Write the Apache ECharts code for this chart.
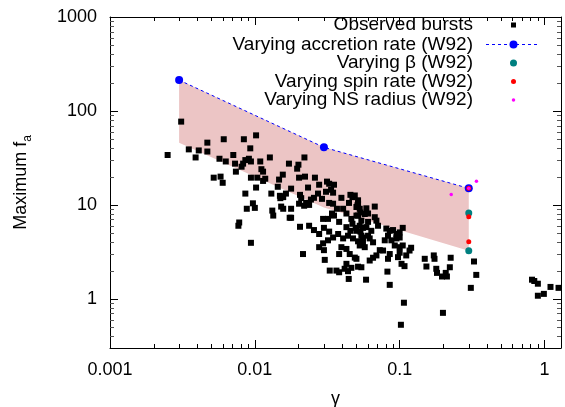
<!DOCTYPE html>
<html><head><meta charset="utf-8">
<script src="https://cdn.jsdelivr.net/npm/echarts@6/dist/echarts.min.js"></script>
<style>html,body{margin:0;padding:0;background:#fff}#c{width:565px;height:407px}</style>
</head><body><div id="c"></div>
<script>
// ---- axis ranges and tick labels ----
const xRange = [0.001, 1.3];
const yRange = [0.3, 1000];
const xTickLabels = ['0.001', '0.01', '0.1', '1'];
const yTickLabels = ['1', '10', '100', '1000'];
const xDecades = [0.001, 0.01, 0.1, 1];
const yDecades = [0.1, 1, 10, 100];
const minorMultipliers = [2, 3, 4, 5, 6, 7, 8, 9];

// ---- observed bursts (gamma, maximum f_a) ----
const burstGamma = [
0.0025,0.0031,0.0035,0.0039,0.0041,0.0047,0.0047,0.0061,0.0057,0.0063,
0.0071,0.0084,0.0102,0.0093,0.0073,0.0081,0.0083,0.0086,0.0091,0.0094,
0.0109,0.0127,0.0074,0.0111,0.0114,0.0094,0.0104,0.0118,0.0114,0.0052,
0.0058,0.0060,0.0102,0.0086,0.0130,0.0147,0.0144,0.0149,0.0156,0.0097,
0.0088,0.0100,0.0132,0.0134,0.0152,0.0150,0.0077,0.0078,0.0094,0.0174,
0.0220,0.0172,0.0200,0.0196,0.0222,0.0260,0.0233,0.0278,0.0315,0.0326,
0.0352,0.0178,0.0164,0.0157,0.0310,0.0336,0.0347,0.0209,0.0226,0.0244,
0.0256,0.0273,0.0291,0.0396,0.0457,0.0472,0.0447,0.0516,0.0511,0.0202,
0.0219,0.0237,0.0326,0.0347,0.0369,0.0341,0.0352,0.0320,0.0382,0.0157,
0.0178,0.0205,0.0237,0.0256,0.0278,0.0296,0.0300,0.0326,0.0407,0.0429,
0.0464,0.0503,0.0536,0.0544,0.0472,0.0429,0.0457,0.0497,0.0536,0.0558,
0.0347,0.0376,0.0407,0.0440,0.0476,0.0516,0.0558,0.0544,0.0320,0.0296,
0.0278,0.0300,0.0396,0.0429,0.0452,0.0490,0.0429,0.0464,0.0215,0.0304,
0.0382,0.0516,0.0544,0.0329,0.0366,0.0382,0.0417,0.0440,0.0445,0.0586,
0.0490,0.0516,0.0503,0.0530,0.0589,0.0673,0.0605,0.0574,0.0673,0.0691,
0.0516,0.0530,0.0605,0.0589,0.0637,0.0709,0.0503,0.0544,0.0605,0.0621,
0.0655,0.0558,0.0530,0.0574,0.0809,0.0854,0.0900,0.1050,0.0831,0.0950,
0.1000,0.0789,0.0877,0.0950,0.1000,0.0925,0.1000,0.1050,0.0729,0.0768,
0.1000,0.1170,0.1200,0.0691,0.0655,0.0621,0.0854,0.0831,0.0974,0.1110,
0.0503,0.1030,0.1080,0.1490,0.1720,0.1740,0.1530,0.1790,0.0823,0.0854,
0.1070,0.1020,0.1810,0.1960,0.2120,0.2220,0.1990,0.3380,0.3100,0.2250,
0.2080,0.3260,0.8200,0.8500,0.9000,1.1000,1.2500,0.9000,0.9900,0.0178,
0.0202,0.0205
];
const burstFa = [
34,77,39,32,38,46,37,50,31,29,
34,50,55,40,27.5,25.5,27.5,30,31,29,
29,32,22.6,24,22.6,19.5,19.5,19,18,19.5,
20,17.2,15.3,13.2,13.2,18.6,15.6,12.5,21,10.4,
9.1,9.3,8.7,7.7,9.6,11.8,6.0,6.5,3.95,7.3,
32,27.5,26.8,24.3,20,19.5,15.3,16.4,17.7,16.8,
16.4,14.9,13.2,12.1,13.8,14.5,13.5,11.8,10.5,11.4,
11.9,13.2,11.6,11.9,12.8,12.1,10.5,11.2,9.9,10.3,
9.8,10,10.5,10.3,9.1,8.1,7.7,7.1,6.6,9.1,
7.3,5.85,6.0,5.4,4.9,7.1,5.7,5.2,9.1,8.1,
7.1,7.7,8.3,6.8,6.3,5.8,5.3,5.7,5.2,5.7,
4.5,4.9,4.4,4.7,4.4,4.1,4.5,3.9,4.2,3.9,
3.55,3.3,3.55,3.4,3.0,2.75,2.36,2.14,3.0,2.6,
3.0,2.2,2.17,2.0,2.0,1.92,2.09,1.97,1.63,1.6,
12.6,10.3,9.5,9.1,9.2,9.6,8.1,8.0,7.4,6.8,
7.7,6.0,6.6,5.8,5.3,6.0,5.3,4.7,4.7,4.4,
4.0,4.0,3.7,3.55,5.6,5.3,5.4,5.7,4.7,4.9,
5.1,4.2,4.2,4.4,4.5,3.7,3.55,3.7,3.3,3.27,
3.1,3.27,3.5,2.9,2.74,2.56,3.0,2.67,2.78,2.9,
2.67,2.36,2.23,2.67,2.9,2.67,2.21,2.09,1.95,1.41,
0.91,0.53,1.89,1.73,1.73,2.17,0.71,1.8,1.31,2.74,
1.89,2.5,1.6,1.55,1.45,1.34,1.31,1.08,1.13,9.1,
19.5,12.8
];

// ---- W92 model points ----
const accretionGamma = [0.003, 0.03, 0.3];
const accretionFa = [213, 41, 15];
const bandLowerFa = [46, 9.4, 3.25];
const betaGamma = [0.3, 0.3];
const betaFa = [8.2, 3.25];
const spinGamma = [0.3, 0.3, 0.3];
const spinFa = [15, 7.5, 4.05];
const radiusGamma = [0.3, 0.227, 0.339];
const radiusFa = [15, 12.9, 17.9];

const legendLabels = ['Observed bursts', 'Varying accretion rate (W92)', 'Varying \u03b2 (W92)', 'Varying spin rate (W92)', 'Varying NS radius (W92)'];

// ---------------------------------------------------------------
const FONT = 'Liberation Sans, Arial, Helvetica, sans-serif';
const pairs = (xs, ys) => xs.map((x, i) => [x, ys[i]]);
const minorOf = (decades, range) => decades.flatMap(d => minorMultipliers.map(m => m * d)).filter(v => v > range[0] * 1.0001 && v < range[1] * 0.9999);
const xMinor = minorOf(xDecades, xRange);
const yMinor = minorOf(yDecades, yRange);

function labelFor(v, labels) {
  const e = Math.log10(v);
  if (Math.abs(e - Math.round(e)) > 1e-6) return '';
  const hit = labels.find(l => Math.abs(Math.log10(parseFloat(l)) - e) < 1e-6);
  return hit || '';
}

const axisBase = {
  type: 'log', logBase: 10,
  splitLine: { show: false },
  minorTick: { show: false },
  axisLine: { show: true, onZero: false, lineStyle: { color: '#000', width: 1 } },
  axisTick: { show: true, inside: true, length: 8, lineStyle: { color: '#000', width: 1 } }
};

const chart = echarts.init(document.getElementById('c'), null, { renderer: 'canvas' });

const crisp = v => Math.round(v) + 0.5;

const option = {
  animation: false,
  backgroundColor: '#fff',
  grid: { left: 110, right: 4, top: 17, bottom: 59, outerBoundsMode: 'none', containLabel: false },
  xAxis: [
    Object.assign({}, axisBase, {
      min: xRange[0], max: xRange[1], position: 'bottom',
      axisLabel: { color: '#000', fontSize: 18, fontFamily: FONT, margin: 13, formatter: v => labelFor(v, xTickLabels) },
      name: '\u03b3', nameLocation: 'middle', nameGap: 42,
      nameTextStyle: { color: '#000', fontSize: 18, fontFamily: FONT }
    }),
    Object.assign({}, axisBase, { min: xRange[0], max: xRange[1], position: 'top', axisLabel: { show: false } })
  ],
  yAxis: [
    Object.assign({}, axisBase, {
      min: yRange[0], max: yRange[1], position: 'left',
      axisLabel: { color: '#000', fontSize: 18, fontFamily: FONT, margin: 13, formatter: v => labelFor(v, yTickLabels) },
      name: '{m|Maximum f}{s|a}', nameLocation: 'middle', nameGap: 76, nameRotate: 90,
      nameTextStyle: {
        color: '#000', fontFamily: FONT,
        rich: {
          m: { fontSize: 18, fontFamily: FONT, color: '#000', lineHeight: 26 },
          s: { fontSize: 12, fontFamily: FONT, color: '#000', lineHeight: 12, verticalAlign: 'bottom' }
        }
      }
    }),
    Object.assign({}, axisBase, { min: yRange[0], max: yRange[1], position: 'right', axisLabel: { show: false } })
  ],
  series: [
    {
      type: 'custom', name: 'band', silent: true, z: 1, clip: true,
      data: [[accretionGamma[0], accretionFa[0]]],
      renderItem: (params, api) => {
        const pts = [];
        accretionGamma.forEach((g, i) => pts.push(api.coord([g, accretionFa[i]])));
        for (let i = accretionGamma.length - 1; i >= 0; i--) pts.push(api.coord([accretionGamma[i], bandLowerFa[i]]));
        return { type: 'polygon', shape: { points: pts }, style: { fill: '#ecc5c5' } };
      }
    },
    {
      type: 'scatter', name: legendLabels[0], z: 2, symbol: 'rect', symbolSize: 6,
      itemStyle: { color: '#000', opacity: 1 },
      data: pairs(burstGamma, burstFa)
    },
    {
      type: 'line', name: legendLabels[1], z: 3, symbol: 'circle', symbolSize: 8, showAllSymbol: true,
      lineStyle: { color: '#0000ff', width: 1, type: [3, 3] },
      itemStyle: { color: '#0000ff', opacity: 1 },
      data: pairs(accretionGamma, accretionFa)
    },
    {
      type: 'scatter', name: legendLabels[2], z: 4, symbol: 'circle', symbolSize: 7,
      itemStyle: { color: '#008080', opacity: 1 },
      data: pairs(betaGamma, betaFa)
    },
    {
      type: 'scatter', name: legendLabels[3], z: 5, symbol: 'circle', symbolSize: 5,
      itemStyle: { color: '#ff0000', opacity: 1 },
      data: pairs(spinGamma, spinFa)
    },
    {
      type: 'scatter', name: legendLabels[4], z: 6, symbol: 'circle', symbolSize: 3.5,
      itemStyle: { color: '#ff00ff', opacity: 1 },
      data: pairs(radiusGamma, radiusFa)
    },
    {
      type: 'custom', name: 'xminor', silent: true, z: 7, clip: false,
      data: xMinor.map(v => [v, yRange[0]]),
      renderItem: (params, api) => {
        const v = api.value(0);
        const b = api.coord([v, yRange[0]]);
        const t = api.coord([v, yRange[1]]);
        const x = crisp(b[0]);
        return { type: 'group', children: [
          { type: 'line', shape: { x1: x, y1: b[1], x2: x, y2: b[1] - 4 }, style: { stroke: '#000', lineWidth: 1 } },
          { type: 'line', shape: { x1: x, y1: t[1], x2: x, y2: t[1] + 4 }, style: { stroke: '#000', lineWidth: 1 } }
        ] };
      }
    },
    {
      type: 'custom', name: 'yminor', silent: true, z: 7, clip: false,
      data: yMinor.map(v => [xRange[0], v]),
      renderItem: (params, api) => {
        const v = api.value(1);
        const l = api.coord([xRange[0], v]);
        const r = api.coord([xRange[1], v]);
        const y = crisp(l[1]);
        return { type: 'group', children: [
          { type: 'line', shape: { x1: l[0], y1: y, x2: l[0] + 4, y2: y }, style: { stroke: '#555', lineWidth: 1 } },
          { type: 'line', shape: { x1: r[0], y1: y, x2: r[0] - 4, y2: y }, style: { stroke: '#555', lineWidth: 1 } }
        ] };
      }
    }
  ],
  graphic: { elements: [] }
};

// legend (key) drawn with graphic elements, right aligned like gnuplot's key
const rowY = [25, 44.5, 63, 81.5, 100];
const textRight = 473, keyX = 513.5;
const els = [];
legendLabels.forEach((t, i) => {
  els.push({ type: 'text', z: 100, style: { text: t, x: textRight, y: rowY[i], align: 'right', verticalAlign: 'middle', font: '19px ' + FONT, fill: '#000' } });
});
els.push({ type: 'rect', z: 100, shape: { x: keyX - 2.5, y: rowY[0] - 2.5, width: 5, height: 5 }, style: { fill: '#000' } });
els.push({ type: 'line', z: 100, shape: { x1: 486, y1: rowY[1], x2: 538, y2: rowY[1] }, style: { stroke: '#0000ff', lineWidth: 1, lineDash: [3, 3] } });
els.push({ type: 'circle', z: 101, shape: { cx: keyX, cy: rowY[1], r: 4 }, style: { fill: '#0000ff' } });
els.push({ type: 'circle', z: 100, shape: { cx: keyX, cy: rowY[2], r: 3.5 }, style: { fill: '#008080' } });
els.push({ type: 'circle', z: 100, shape: { cx: keyX, cy: rowY[3], r: 2.5 }, style: { fill: '#ff0000' } });
els.push({ type: 'circle', z: 100, shape: { cx: keyX, cy: rowY[4], r: 1.75 }, style: { fill: '#ff00ff' } });
option.graphic.elements = els;

chart.setOption(option);
</script>
</body></html>
